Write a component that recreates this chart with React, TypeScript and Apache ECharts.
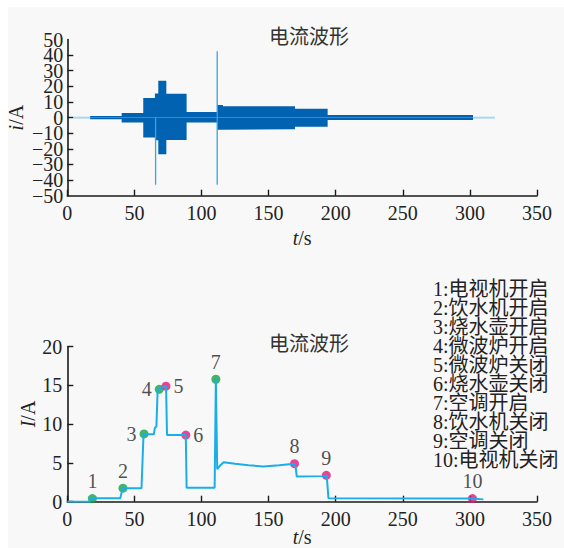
import React, { useEffect, useRef } from "react";
import * as echarts from "echarts";

// ---------- Top chart: current waveform envelope ----------
const segStart = [17, 40.5, 56.6, 65.3, 67.8, 73.8, 88.9, 111.7, 116, 169.7, 194];
const segEnd = [40.5, 56.6, 65.3, 67.8, 73.8, 88.9, 111.7, 116, 169.7, 194, 302.3];
const segUpper = [1.1, 2.9, 12.5, 15.5, 23.6, 15.3, 3.6, 8.0, 7.3, 5.6, 1.6];
const segLower = [-1.1, -3.1, -12.8, -14.5, -23.4, -14.4, -3.2, -7.8, -7.5, -5.8, -1.6];

// faint low-current parts before / after the main record
const faintStart = [4.5, 302.3];
const faintEnd = [17, 318.6];
const faintAmp = [0.5, 0.6];

// transient spikes
const spikeT = [65.8, 111.7];
const spikeMax = [0, 42.5];
const spikeMin = [-43, -43];

// ---------- Bottom chart: RMS current ----------
const rmsT = [0, 16.8, 17, 39.5, 41.2, 55.3, 56.8, 64.5, 65.2, 66.4, 67.3, 68.5, 72.6, 73.6, 74.3, 88.3, 88.9, 109.8, 110.7, 111.7, 113.5, 116.5, 125, 135, 146, 158, 169, 170.2, 171, 192.5, 193.3, 194.6, 302, 310];
const rmsI = [0, 0, 0.45, 0.45, 1.75, 1.75, 8.7, 8.7, 9.5, 9.7, 14.3, 14.5, 14.9, 14.8, 8.6, 8.6, 1.8, 1.8, 15.8, 4.2, 4.6, 5.1, 4.9, 4.7, 4.55, 4.7, 4.9, 4.4, 3.25, 3.3, 3.4, 0.45, 0.4, 0.3];

const eventT = [18.7, 41.5, 57.2, 68.5, 73.5, 88.3, 110.7, 169.3, 193, 301.9];
const eventI = [0.4, 1.75, 8.75, 14.5, 14.9, 8.6, 15.8, 4.9, 3.4, 0.4];
const eventOn = [true, true, true, true, false, false, true, false, false, false];
const eventNames = ["1", "2", "3", "4", "5", "6", "7", "8", "9", "10"];

const legendLines = [
  "1:电视机开启",
  "2:饮水机开启",
  "3:烧水壶开启",
  "4:微波炉开启",
  "5:微波炉关闭",
  "6:烧水壶关闭",
  "7:空调开启",
  "8:饮水机关闭",
  "9:空调关闭",
  "10:电视机关闭",
];

const chartTitle = "电流波形";

const SERIF = "Liberation Serif";
const MIXED = "Liberation Serif, Noto Sans CJK SC";
const TEXT = "#222";
const AXIS = "#1a1a1a";
const DARK = "#0062b0";
const LIGHT = "#33a7e0";
const RMS = "#1aaee8";
const GREEN = "#13a14a";
const PINK = "#e5157e";

const minus = (v: number) => String(v).replace("-", "\u2212");

export default function App() {
  const ref = useRef<HTMLDivElement>(null);

  useEffect(() => {
    if (!ref.current) return;
    const chart = echarts.init(ref.current, undefined, { renderer: "svg" });

    const upper: number[][] = [];
    const lower: number[][] = [];
    segStart.forEach((s, i) => {
      upper.push([s, segUpper[i]], [segEnd[i], segUpper[i]]);
      lower.push([s, segLower[i]], [segEnd[i], segLower[i]]);
    });

    const faintSeries: any[] = [];
    faintStart.forEach((s, i) => {
      [faintAmp[i], -faintAmp[i]].forEach((a) => {
        faintSeries.push({
          type: "line",
          xAxisIndex: 0,
          yAxisIndex: 0,
          data: [[s, a], [faintEnd[i], a]],
          showSymbol: false,
          silent: true,
          lineStyle: { width: 0 },
          areaStyle: { color: "#8fcbea", opacity: 1 },
        });
      });
    });

    const spikeSeries = spikeT.map((t, i) => ({
      type: "line",
      xAxisIndex: 0,
      yAxisIndex: 0,
      data: [[t, spikeMax[i]], [t, spikeMin[i]]],
      showSymbol: false,
      silent: true,
      lineStyle: { color: LIGHT, width: 1.3 },
    }));

    const axisCommon = {
      axisLine: { show: true, onZero: false, lineStyle: { color: AXIS, width: 1.6 } },
      axisTick: { show: true, inside: true, length: 6, lineStyle: { color: AXIS, width: 1.4 } },
      splitLine: { show: false },
      nameMoveOverlap: false,
    };
    const labelCommon = {
      color: TEXT,
      fontFamily: SERIF,
      fontSize: 20,
    };
    const nameStyle = {
      color: TEXT,
      fontFamily: SERIF,
      fontSize: 20,
      rich: { i: { fontStyle: "italic", fontFamily: SERIF, fontSize: 20, color: TEXT } },
    };

    const option: any = {
      animation: false,
      backgroundColor: "#f8f8f8",
      grid: [
        { left: 59.3, top: 32.5, width: 469.7, height: 156.2, outerBoundsMode: "none", containLabel: false },
        { left: 59.3, top: 339.7, width: 469.7, height: 155, outerBoundsMode: "none", containLabel: false },
      ],
      xAxis: [0, 1].map((g) => ({
        ...axisCommon,
        type: "value",
        gridIndex: g,
        min: 0,
        max: 350,
        interval: 50,
        axisLabel: { ...labelCommon, margin: 7 },
        name: "{i|t}/s",
        nameLocation: "middle",
        nameGap: g === 0 ? 32 : 25,
        nameTextStyle: nameStyle,
      })),
      yAxis: [
        {
          ...axisCommon,
          type: "value",
          gridIndex: 0,
          min: -50,
          max: 50,
          interval: 10,
          axisLabel: { ...labelCommon, margin: 4, formatter: minus, showMinLabel: false, showMaxLabel: false },
          name: "{i|i}/A",
          nameLocation: "middle",
          nameGap: 41,
          nameTextStyle: nameStyle,
        },
        {
          ...axisCommon,
          type: "value",
          gridIndex: 1,
          min: 0,
          max: 20,
          interval: 5,
          axisLabel: { ...labelCommon, margin: 5 },
        },
        {
          // companion axis carrying only the end labels (−50 and 50) of the top chart
          type: "value",
          gridIndex: 0,
          position: "left",
          min: -50,
          max: 50,
          interval: 100,
          axisLine: { show: false },
          axisTick: { show: false },
          splitLine: { show: false },
          axisLabel: { ...labelCommon, margin: 4, formatter: minus, showMinLabel: true, showMaxLabel: true },
        },
      ],
      graphic: [
        {
          type: "text",
          x: 301,
          y: 28,
          style: { text: chartTitle, fill: "#333", fontFamily: "Noto Sans CJK SC", fontSize: 20, align: "center", verticalAlign: "middle" },
        },
        {
          type: "text",
          x: 301,
          y: 335,
          style: { text: chartTitle, fill: "#333", fontFamily: "Noto Sans CJK SC", fontSize: 20, align: "center", verticalAlign: "middle" },
        },
        {
          type: "text",
          x: 20,
          y: 407,
          rotation: Math.PI / 2,
          style: {
            text: "{i|I}/A",
            fill: TEXT,
            fontFamily: SERIF,
            fontSize: 20,
            align: "center",
            verticalAlign: "middle",
            rich: { i: { fontStyle: "italic", fontFamily: SERIF, fontSize: 20, fill: TEXT } },
          },
        },
        {
          type: "text",
          x: 425,
          y: 272,
          style: {
            text: legendLines.join("\n"),
            fill: TEXT,
            fontFamily: MIXED,
            fontSize: 20,
            lineHeight: 19.1,
            align: "left",
            verticalAlign: "top",
          },
        },
      ],
      series: [
        {
          type: "line",
          xAxisIndex: 0,
          yAxisIndex: 0,
          data: upper,
          showSymbol: false,
          silent: true,
          lineStyle: { width: 0 },
          areaStyle: { color: DARK, opacity: 1 },
        },
        {
          type: "line",
          xAxisIndex: 0,
          yAxisIndex: 0,
          data: lower,
          showSymbol: false,
          silent: true,
          lineStyle: { width: 0 },
          areaStyle: { color: DARK, opacity: 1 },
        },
        ...faintSeries,
        ...spikeSeries,
        {
          type: "line",
          xAxisIndex: 1,
          yAxisIndex: 1,
          data: rmsT.map((t, i) => [t, rmsI[i]]),
          showSymbol: false,
          silent: true,
          lineStyle: { color: RMS, width: 2 },
        },
        {
          type: "scatter",
          xAxisIndex: 1,
          yAxisIndex: 1,
          symbolSize: 9,
          silent: true,
          data: eventT.map((t, i) => {
            const n = i + 1;
            const pos = n === 3 || n === 4 ? "left" : n === 5 || n === 6 ? "right" : "top";
            return {
              name: eventNames[i],
              value: [t, eventI[i]],
              itemStyle: { color: eventOn[i] ? GREEN : PINK },
              label: { position: pos },
            };
          }),
          label: {
            show: true,
            formatter: "{b}",
            distance: 3,
            color: TEXT,
            fontFamily: SERIF,
            fontSize: 20,
          },
        },
      ],
    };

    chart.setOption(option);
    return () => chart.dispose();
  }, []);

  return (
    <div style={{ position: "fixed", left: 0, top: 0, width: 564, height: 548, background: "#fff" }}>
      <div ref={ref} style={{ position: "absolute", left: 8, top: 7, width: 556, height: 541 }} />
    </div>
  );
}
